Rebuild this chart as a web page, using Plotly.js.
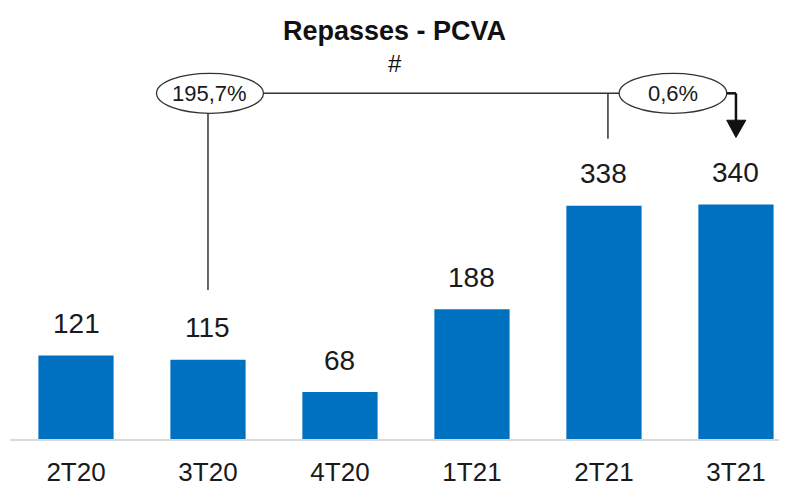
<!DOCTYPE html>
<html><head><meta charset="utf-8">
<script src="https://cdn.plot.ly/plotly-3.0.1.min.js"></script>
<style>html,body{margin:0;padding:0;background:#fff}#c{width:789px;height:490px}</style>
</head><body><div id="c"></div>
<script>
const categories = ["2T20","3T20","4T20","1T21","2T21","3T21"];
const values = [121,115,68,188,338,340];
const growthLabels = ["195,7%","0,6%"];
const titleText = "Repasses - PCVA";
const subtitleText = "#";

const FONT = "'Liberation Sans Narrow','Arial Narrow','Liberation Sans',Arial,sans-serif";
const BLUE = "#0070C0";
const idx = categories.map((_, i) => i);

const annotations = values.map((v, i) => ({
  x: i, y: v, xref: 'x', yref: 'y', text: String(v), showarrow: false,
  yanchor: 'middle', yshift: 32, font: {family: FONT, size: 28, color: '#1a1a1a'}
}));
annotations.push(
  {xref:'paper', yref:'paper', x:0.5, y:1, xanchor:'center', yanchor:'top', yshift:-14, text:'<b>'+titleText+'</b>', showarrow:false,
   font:{family:FONT, size:27, color:'#111'}},
  {xref:'paper', yref:'paper', x:0.5, y:1, xanchor:'center', yanchor:'top', yshift:-48, text:subtitleText, showarrow:false,
   font:{family:FONT, size:24, color:'#111'}},
  {x:1.01, y:501, xref:'x', yref:'y', text:growthLabels[0], showarrow:false, font:{family:FONT, size:22, color:'#1a1a1a'}},
  {x:4.52, y:501, xref:'x', yref:'y', text:growthLabels[1], showarrow:false, font:{family:FONT, size:22, color:'#1a1a1a'}}
);

const ln = {color:'#333', width:1.5};
const shapes = [
  {type:'circle', xref:'x', yref:'y', x0:0.61, x1:1.42, y0:472, y1:530, line:{color:'#333', width:1.3}, fillcolor:'rgba(0,0,0,0)'},
  {type:'circle', xref:'x', yref:'y', x0:4.115, x1:4.93, y0:472, y1:530, line:{color:'#333', width:1.3}, fillcolor:'rgba(0,0,0,0)'},
  {type:'line', xref:'x', yref:'y', x0:1.0, x1:1.0, y0:472, y1:216, line:ln},
  {type:'line', xref:'x', yref:'y', x0:1.42, x1:4.115, y0:501, y1:501, line:ln},
  {type:'line', xref:'x', yref:'y', x0:4.03, x1:4.03, y0:501, y1:435, line:ln},
  {type:'line', xref:'x', yref:'y', x0:4.93, x1:5.0, y0:501, y1:501, line:{color:'#111', width:2.5}},
  {type:'line', xref:'x', yref:'y', x0:5.0, x1:5.0, y0:501, y1:460, line:{color:'#111', width:2.5}},
  {type:'path', xref:'x', yref:'y', path:'M 4.93 462 L 5.075 462 L 5.0 437 Z', fillcolor:'#111', line:{color:'#111', width:1}}
];

const data = [{
  type:'bar', x: idx, y: values, marker:{color: BLUE}, hoverinfo:'none'
}];

const layout = {
  width:789, height:490,
  margin:{l:10, r:10, t:0, b:51},
  paper_bgcolor:'#fff', plot_bgcolor:'#fff',
  bargap:0.43,
  showlegend:false,
  xaxis:{type:'linear', range:[-0.5, 5.326], tickvals: idx, ticktext: categories, showgrid:false, zeroline:false,
         showline:true, linecolor:'#d9d9d9', linewidth:2, ticks:'', ticklabelstandoff:9,
         tickfont:{family:FONT, size:26, color:'#1a1a1a'}, fixedrange:true},
  yaxis:{range:[0, 439/0.69], visible:false, fixedrange:true},
  annotations, shapes
};
Plotly.newPlot('c', data, layout, {staticPlot:true});
</script></body></html>
